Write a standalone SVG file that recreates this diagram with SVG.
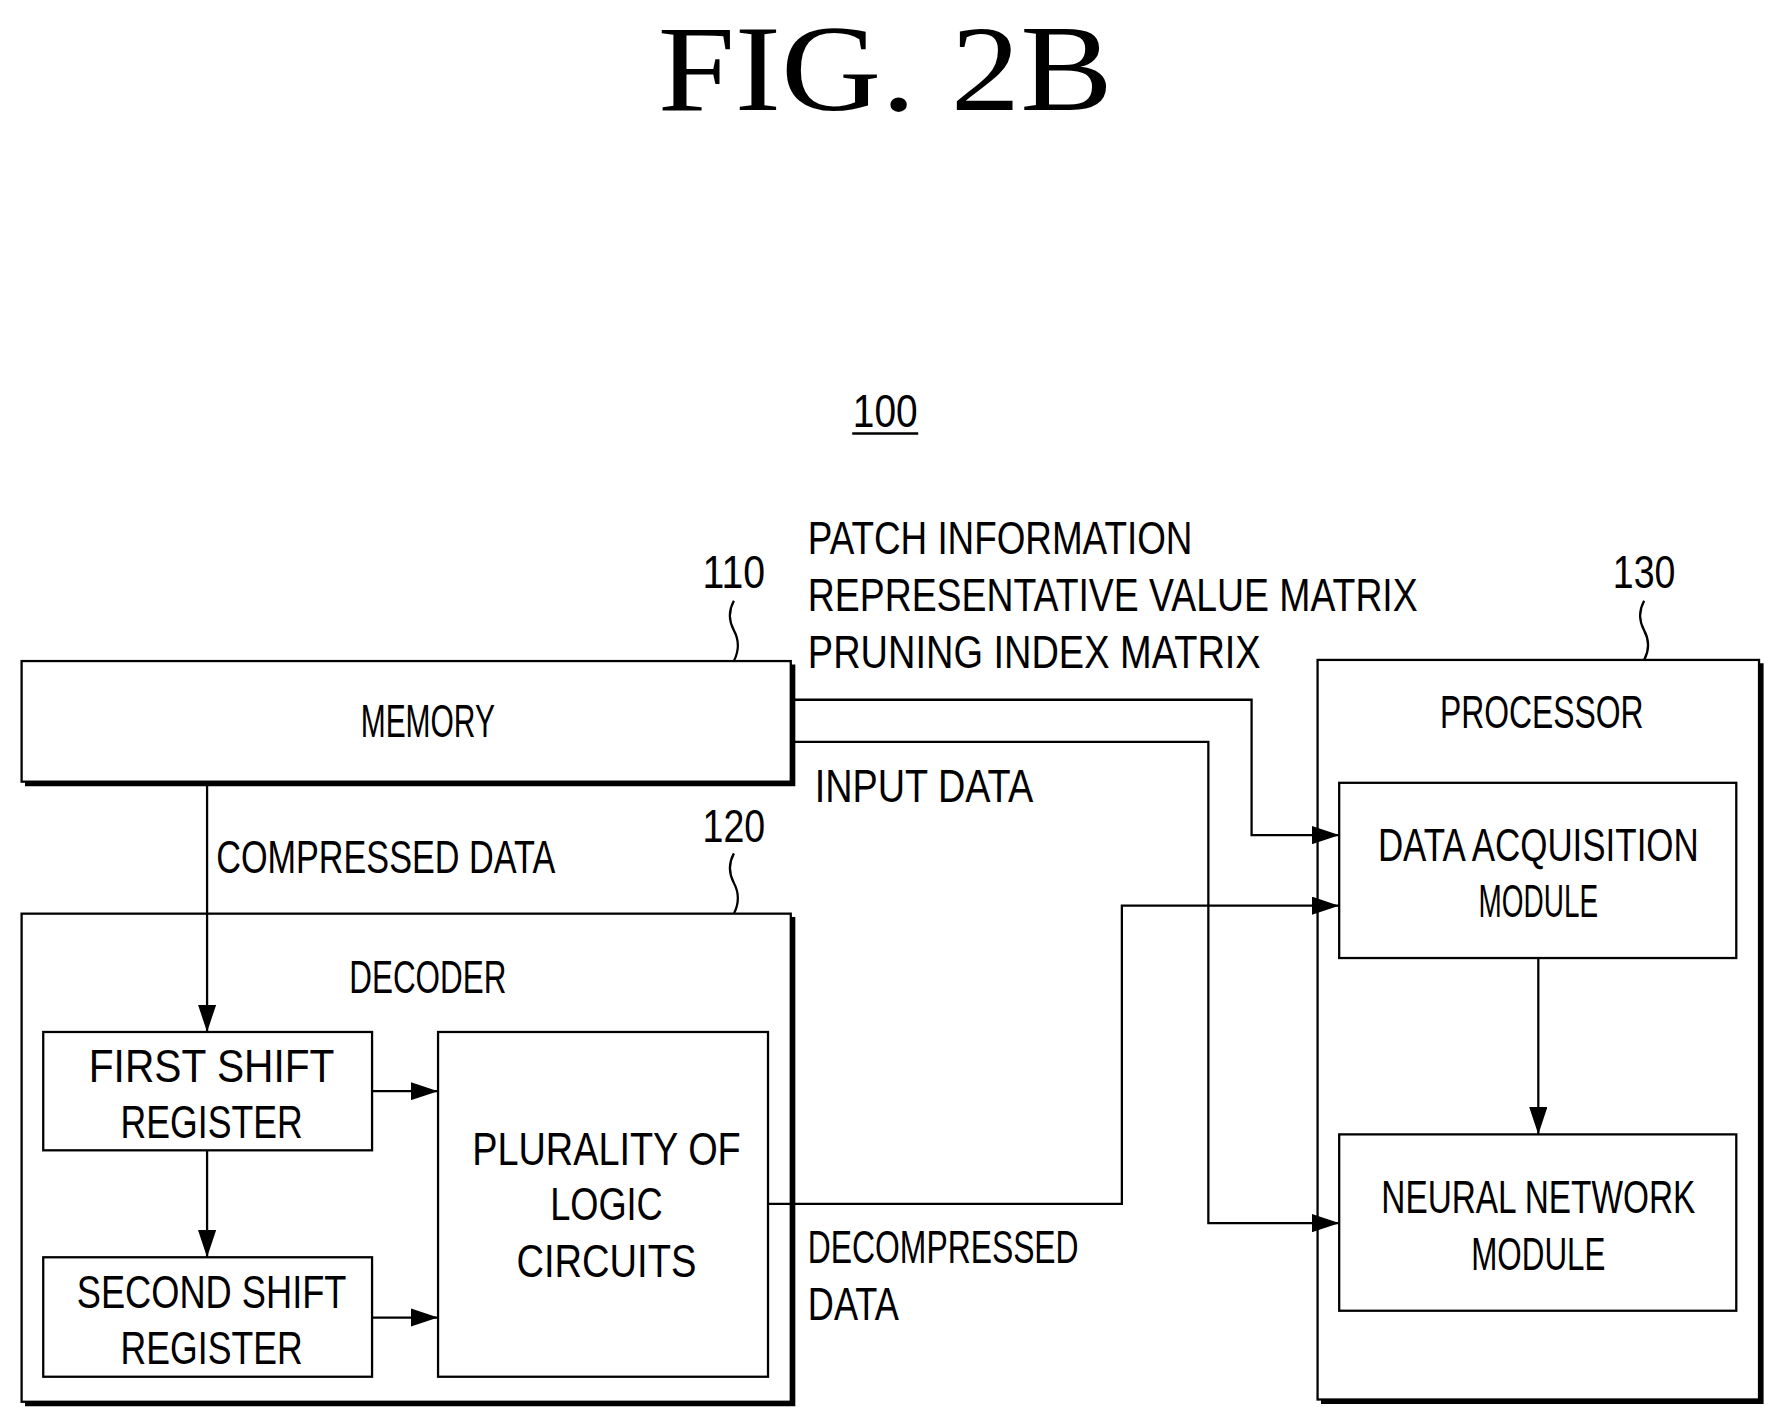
<svg xmlns="http://www.w3.org/2000/svg" width="1775" height="1419" viewBox="0 0 1775 1419">
<style>
.t{font-family:"Liberation Sans",Arial,sans-serif;font-size:40px;fill:#000}
.m{text-anchor:middle}
.b{fill:#fff;stroke:#000;stroke-width:2}
.s{fill:none;stroke:#000;stroke-width:4}
.l{fill:none;stroke:#000;stroke-width:2}
</style>
<defs><marker id="a" markerWidth="24" markerHeight="16" refX="24" refY="8" orient="auto" markerUnits="userSpaceOnUse"><path d="M0 0L24 8L0 16Z" fill="#000"/></marker></defs>
<rect width="1775" height="1419" fill="#fff"/>
<g transform="scale(1.1378)">
<text x="778" y="97" font-family="Liberation Serif,serif" font-size="108" text-anchor="middle" textLength="400" lengthAdjust="spacingAndGlyphs">FIG.  2B</text>
<g id="label100"><text class="t m" x="778" y="375" textLength="57" lengthAdjust="spacingAndGlyphs">100</text><path class="l" d="M749 381H807"/></g>
<g id="memory"><path class="s" d="M697 584V689H22"/><rect class="b" x="19" y="581" width="676" height="106"/><text class="t m" x="376" y="648" textLength="118" lengthAdjust="spacingAndGlyphs">MEMORY</text>
<text class="t m" x="645" y="517" textLength="55" lengthAdjust="spacingAndGlyphs">110</text><path class="l" d="M645 528q-7 13 0 26q7 13 0 27"/></g>
<g id="decoder"><path class="s" d="M697 806V1234H22"/><rect class="b" x="19" y="803" width="676" height="429"/><text class="t m" x="376" y="873" textLength="138" lengthAdjust="spacingAndGlyphs">DECODER</text>
<text class="t m" x="645" y="740" textLength="55" lengthAdjust="spacingAndGlyphs">120</text><path class="l" d="M645 750q-7 13 0 26q7 13 0 27"/></g>
<g id="sr1"><rect class="b" x="38" y="907" width="289" height="104"/><text class="t m" x="186" y="951" textLength="216" lengthAdjust="spacingAndGlyphs">FIRST SHIFT</text><text class="t m" x="186" y="1000" textLength="160" lengthAdjust="spacingAndGlyphs">REGISTER</text></g>
<g id="sr2"><rect class="b" x="38" y="1105" width="289" height="105"/><text class="t m" x="186" y="1150" textLength="237" lengthAdjust="spacingAndGlyphs">SECOND SHIFT</text><text class="t m" x="186" y="1199" textLength="160" lengthAdjust="spacingAndGlyphs">REGISTER</text></g>
<g id="logic"><rect class="b" x="385" y="907" width="290" height="303"/><text class="t m" x="533" y="1024" textLength="236" lengthAdjust="spacingAndGlyphs">PLURALITY OF</text><text class="t m" x="533" y="1072" textLength="99" lengthAdjust="spacingAndGlyphs">LOGIC</text><text class="t m" x="533" y="1122" textLength="158" lengthAdjust="spacingAndGlyphs">CIRCUITS</text></g>
<g id="processor"><path class="s" d="M1548 583V1232H1161"/><rect class="b" x="1158" y="580" width="388" height="650"/><text class="t m" x="1355" y="640" textLength="179" lengthAdjust="spacingAndGlyphs">PROCESSOR</text>
<text class="t m" x="1445" y="517" textLength="55" lengthAdjust="spacingAndGlyphs">130</text><path class="l" d="M1445 528q-7 13 0 26q7 13 0 26"/></g>
<g id="dam"><rect class="b" x="1177" y="688" width="349" height="154"/><text class="t m" x="1352" y="757" textLength="282" lengthAdjust="spacingAndGlyphs">DATA ACQUISITION</text><text class="t m" x="1352" y="806" textLength="105" lengthAdjust="spacingAndGlyphs">MODULE</text></g>
<g id="nn"><rect class="b" x="1177" y="997" width="349" height="155"/><text class="t m" x="1352" y="1066" textLength="276" lengthAdjust="spacingAndGlyphs">NEURAL NETWORK</text><text class="t m" x="1352" y="1116" textLength="118" lengthAdjust="spacingAndGlyphs">MODULE</text></g>
<g id="connectors">
<path class="l" d="M182 689V907" marker-end="url(#a)"/>
<path class="l" d="M182 1011V1105" marker-end="url(#a)"/>
<path class="l" d="M327 959H385" marker-end="url(#a)"/>
<path class="l" d="M327 1158H385" marker-end="url(#a)"/>
<path class="l" d="M697 615H1100V734H1177" marker-end="url(#a)"/>
<path class="l" d="M697 652H1062V1075H1177" marker-end="url(#a)"/>
<path class="l" d="M675 1058H986V796H1177" marker-end="url(#a)"/>
<path class="l" d="M1352 842V997" marker-end="url(#a)"/>
<text class="t" x="710" y="487" textLength="338" lengthAdjust="spacingAndGlyphs">PATCH INFORMATION</text>
<text class="t" x="710" y="537" textLength="536" lengthAdjust="spacingAndGlyphs">REPRESENTATIVE VALUE MATRIX</text>
<text class="t" x="710" y="587" textLength="398" lengthAdjust="spacingAndGlyphs">PRUNING INDEX MATRIX</text>
<text class="t" x="716" y="705" textLength="192" lengthAdjust="spacingAndGlyphs">INPUT DATA</text>
<text class="t" x="190" y="767" textLength="298" lengthAdjust="spacingAndGlyphs">COMPRESSED DATA</text>
<text class="t" x="710" y="1110" textLength="238" lengthAdjust="spacingAndGlyphs">DECOMPRESSED</text>
<text class="t" x="710" y="1160" textLength="80" lengthAdjust="spacingAndGlyphs">DATA</text>
</g>
</g>
</svg>
